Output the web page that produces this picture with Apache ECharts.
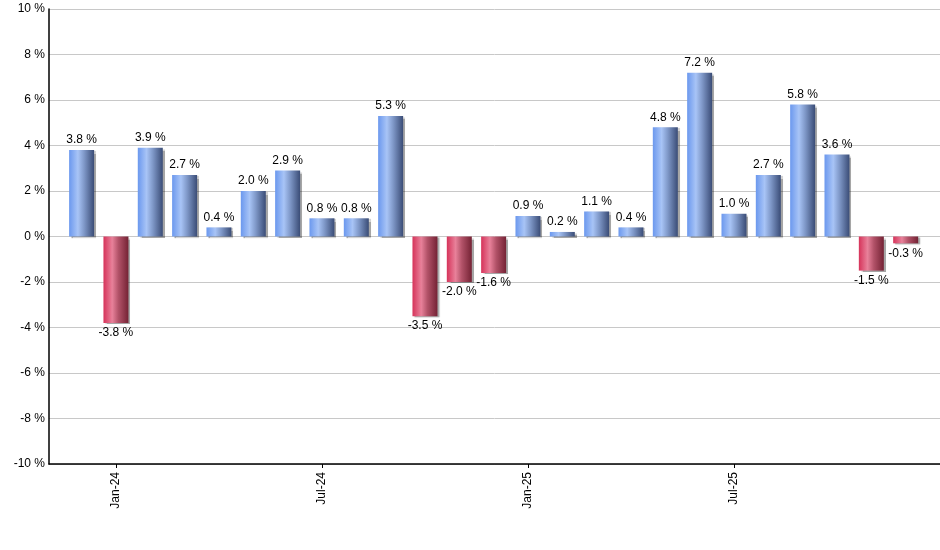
<!DOCTYPE html>
<html>
<head>
<meta charset="utf-8">
<script src="https://cdn.jsdelivr.net/npm/echarts@6/dist/echarts.min.js"></script>
<style>html,body{margin:0;padding:0;background:#fff}#c{width:940px;height:550px}</style>
</head>
<body>
<div id="c"></div>
<script>
var categories = ['Dec-23','Jan-24','Feb-24','Mar-24','Apr-24','May-24','Jun-24','Jul-24','Aug-24','Sep-24','Oct-24','Nov-24','Dec-24','Jan-25','Feb-25','Mar-25','Apr-25','May-25','Jun-25','Jul-25','Aug-25','Sep-25','Oct-25','Nov-25','Dec-25'];
var values = [3.8,-3.8,3.9,2.7,0.4,2.0,2.9,0.8,0.8,5.3,-3.5,-2.0,-1.6,0.9,0.2,1.1,0.4,4.8,7.2,1.0,2.7,5.8,3.6,-1.5,-0.3];
var tickLabels = ['Jan-24','Jul-24','Jan-25','Jul-25'];
var yTicks = [-10,-8,-6,-4,-2,0,2,4,6,8,10];

var tickPos = tickLabels.map(function(t){return categories.indexOf(t);});
var blueGrad = new echarts.graphic.LinearGradient(0,0,1,0,[
  {offset:0,color:'#6b98ee'},{offset:0.35,color:'#a8c4f6'},{offset:0.6,color:'#7f98c8'},{offset:1,color:'#3a4c76'}]);
var redGrad = new echarts.graphic.LinearGradient(0,0,1,0,[
  {offset:0,color:'#d6335a'},{offset:0.35,color:'#e8819a'},{offset:0.6,color:'#b25268'},{offset:1,color:'#742234'}]);

var data = values.map(function(v,i){
  return {
    value:[i,v],
    itemStyle:{color: v>=0?blueGrad:redGrad},
    label:{position: v>=0?'top':'bottom'}
  };
});

var chart = echarts.init(document.getElementById('c'));
chart.setOption({
  animation:false,
  grid:{left:49,right:0,top:9,bottom:86,containLabel:false},
  xAxis:{
    type:'value',min:-0.95,max:25,
    axisLine:{onZero:false,lineStyle:{color:'#000',width:1.5}},
    splitLine:{show:false},
    axisTick:{show:true,length:4,lineStyle:{color:'#000'},customValues:tickPos},
    axisLabel:{show:true,rotate:90,margin:8,color:'#000',fontSize:12,fontFamily:'Liberation Sans, Arial, sans-serif',
      customValues:tickPos,
      formatter:function(v){return categories[Math.round(v)]||'';}}
  },
  yAxis:{
    type:'value',min:yTicks[0],max:yTicks[yTicks.length-1],interval:2,
    axisLine:{show:true,onZero:false,lineStyle:{color:'#000',width:1.5}},
    axisTick:{show:false},
    splitLine:{show:true,lineStyle:{color:'#c8c8c8',width:1}},
    axisLabel:{margin:4,color:'#000',fontSize:12,fontFamily:'Liberation Sans, Arial, sans-serif',
      formatter:function(v){return v+' %';}}
  },
  series:[{
    type:'bar',
    barWidth:25,
    data:data,
    itemStyle:{shadowColor:'rgba(0,0,0,0.35)',shadowOffsetX:2,shadowOffsetY:1,shadowBlur:1},
    label:{show:true,distance:4,color:'#000',fontSize:12,fontFamily:'Liberation Sans, Arial, sans-serif',
      formatter:function(p){return p.value[1].toFixed(1)+' %';}}
  }]
});
</script>
</body>
</html>
